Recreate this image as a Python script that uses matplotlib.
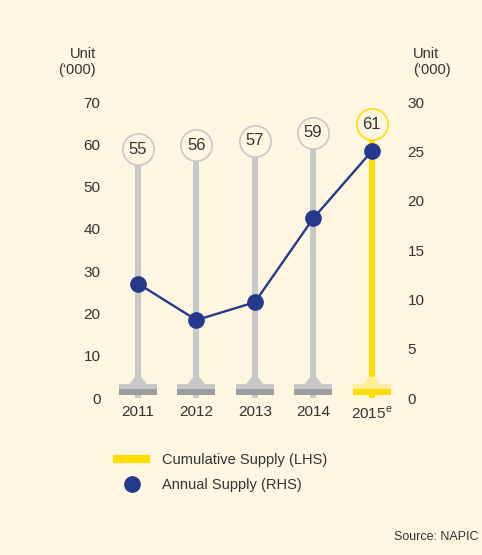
import numpy as np
import matplotlib
matplotlib.use("Agg")
import matplotlib.pyplot as plt
from matplotlib.lines import Line2D
from matplotlib.transforms import offset_copy

plt.rcParams["font.family"] = ["Liberation Sans", "DejaVu Sans"]
plt.rcParams["mathtext.fontset"] = "custom"
plt.rcParams["mathtext.rm"] = "Liberation Sans"

years = ["2011", "2012", "2013", "2014", "2015$^{\\mathrm{e}}$"]
cumulative = [55, 56, 57, 59, 61]          # LHS, '000 units
annual = [11.6, 7.9, 9.7, 18.2, 25.0]      # RHS, '000 units

BG = "#FEF6E0"
GREY = "#C8C8C8"
GREY_DARK = "#9C9C9C"
YELLOW = "#FFDD00"
YELLOW_LIGHT = "#FFEE9A"
NAVY = "#243A8B"
TXT = "#333333"

fig = plt.figure(figsize=(4.82, 5.55), dpi=100, facecolor=BG)
ax = fig.add_axes([108.8 / 482, 1 - 398 / 555, 292 / 482, 296 / 555])
ax.set_facecolor("none")

x = np.arange(len(years))
stem_col = [GREY] * 4 + [YELLOW]
foot_top = [GREY] * 4 + [YELLOW_LIGHT]
foot_bot = [GREY_DARK] * 4 + [YELLOW]

# stems
ax.bar(x, cumulative, width=0.1, color=stem_col, zorder=2)
# base feet
ax.bar(x, 1.45, width=0.65, bottom=0.65, color=foot_bot, zorder=3)
ax.bar(x, 1.25, width=0.65, bottom=2.1, color=foot_top, zorder=3)
for xi, c in zip(x, foot_top):
    ax.fill([xi - 0.15, xi + 0.15, xi + 0.05, xi - 0.05],
            [3.3, 3.3, 5.0, 5.0], color=c, lw=0, zorder=3)

# value bubbles sitting on top of each stem
bubble = offset_copy(ax.transData, fig=fig, y=16, units="dots")
for xi, v, c in zip(x, cumulative, [GREY] * 4 + [YELLOW]):
    ax.plot(xi, v, "o", ms=22.5, mfc=BG, mec=c, mew=1.2,
            transform=bubble, zorder=4, clip_on=False)
    ax.text(xi, v, str(v), transform=bubble, ha="center", va="center",
            fontsize=12, color=TXT, zorder=5)

ax.set_xlim(-0.5, 4.5)
ax.set_ylim(0, 70)
ax.set_yticks(range(0, 71, 10))
ax.set_xticks(x)
ax.set_xticklabels(years)

ax2 = ax.twinx()
ax2.plot(x, annual, color=NAVY, lw=1.7, marker="o", ms=11, zorder=5)
ax2.set_ylim(0, 30)
ax2.set_yticks(range(0, 31, 5))

for a in (ax, ax2):
    for s in a.spines.values():
        s.set_visible(False)
    a.tick_params(length=0, labelsize=11, colors=TXT)
ax.tick_params(axis="y", pad=6)
ax.tick_params(axis="x", pad=5)
ax2.tick_params(axis="y", pad=5)

fig.text(96 / 482, 1 - 62 / 555, "Unit\n(‘000)", ha="right", va="center",
         multialignment="right", fontsize=10.5, color=TXT, linespacing=1.2)
fig.text(413 / 482, 1 - 62 / 555, "Unit\n(‘000)", ha="left", va="center",
         multialignment="left", fontsize=10.5, color=TXT, linespacing=1.2)

handles = [Line2D([], [], color=YELLOW, lw=6, solid_capstyle="butt"),
           Line2D([], [], color=NAVY, lw=0, marker="o", ms=11)]
fig.legend(handles, ["Cumulative Supply (LHS)", "Annual Supply (RHS)"],
           loc="upper left", bbox_to_anchor=(100 / 482, 1 - 440 / 555),
           frameon=False, fontsize=10.5, handlelength=2.55, handletextpad=0.8,
           labelspacing=0.75, labelcolor=TXT)

fig.text(478 / 482, 1 - 537 / 555, "Source: NAPIC", ha="right", va="center",
         fontsize=9, color=TXT)

fig.savefig("out.png", dpi=100, facecolor=BG)
